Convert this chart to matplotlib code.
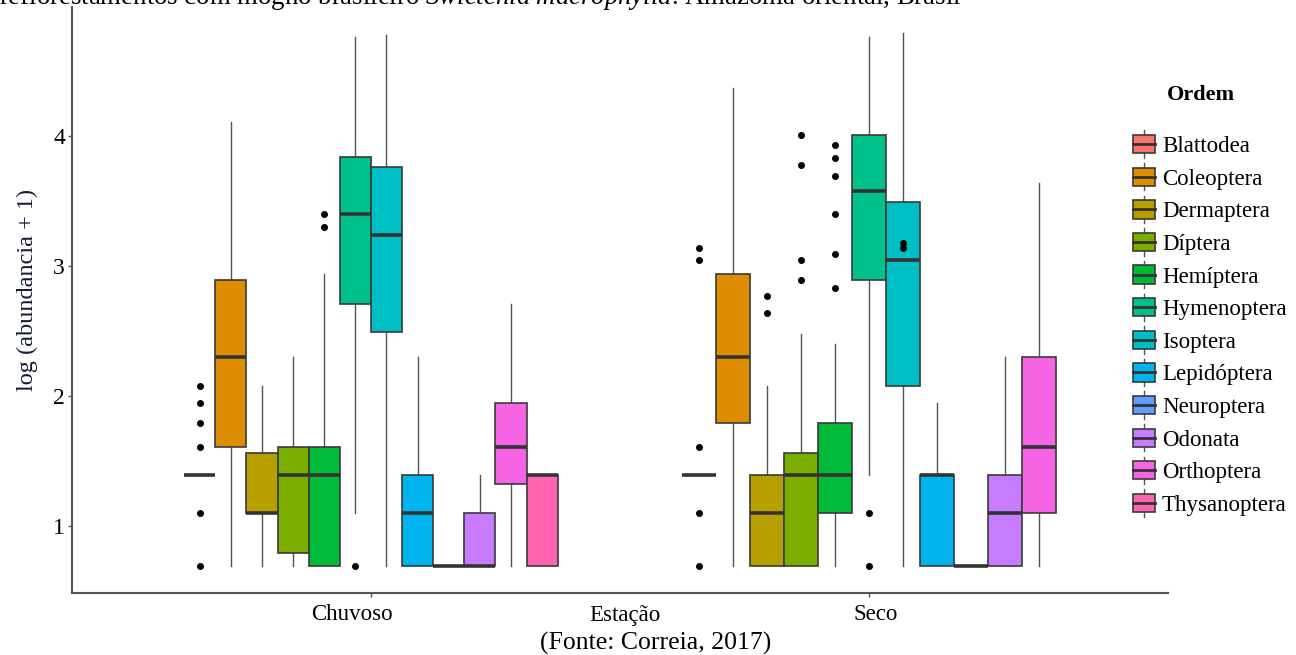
import numpy as np
import matplotlib
matplotlib.use("Agg")
import matplotlib.pyplot as plt
from matplotlib.patches import Rectangle, Patch
from matplotlib.lines import Line2D
from matplotlib.legend_handler import HandlerBase

plt.rcParams['font.family'] = ['Liberation Serif', 'DejaVu Serif']
plt.rcParams['mathtext.fontset'] = 'custom'
plt.rcParams['mathtext.rm'] = 'Liberation Serif'
plt.rcParams['mathtext.it'] = 'Liberation Serif:italic'

# %% Data (log(abundancia + 1))
ordens = ['Blattodea', 'Coleoptera', 'Dermaptera', 'Díptera', 'Hemíptera', 'Hymenoptera',
          'Isoptera', 'Lepidóptera', 'Neuroptera', 'Odonata', 'Orthoptera', 'Thysanoptera']
cores = ['#F8766D', '#DE8C00', '#B79F00', '#7CAE00', '#00BA38', '#00C08B',
         '#00BFC4', '#00B4F0', '#619CFF', '#C77CFF', '#F564E3', '#FF64B0']
estacoes = ['Chuvoso', 'Seco']

# Chuvoso: all 12 orders
chuv_whislo = [1.39, 0.69, 0.69, 0.69, 0.69, 1.10, 0.69, 0.69, 0.69, 0.69, 0.69, 0.69]
chuv_q1     = [1.39, 1.61, 1.10, 0.79, 0.69, 2.71, 2.49, 0.69, 0.69, 0.69, 1.32, 0.69]
chuv_med    = [1.39, 2.30, 1.10, 1.39, 1.39, 3.40, 3.24, 1.10, 0.69, 0.69, 1.61, 1.39]
chuv_q3     = [1.39, 2.89, 1.56, 1.61, 1.61, 3.84, 3.76, 1.39, 0.69, 1.10, 1.95, 1.39]
chuv_whishi = [1.39, 4.11, 2.08, 2.30, 2.94, 4.76, 4.78, 2.30, 0.69, 1.39, 2.71, 1.39]
chuv_fliers = [[2.08, 1.95, 1.79, 1.61, 1.10, 0.69], [], [], [], [3.40, 3.30], [0.69],
               [], [], [], [], [], []]

# Seco: no Thysanoptera
seco_whislo = [1.39, 0.69, 0.69, 0.69, 0.69, 1.39, 0.69, 0.69, 0.69, 0.69, 0.69]
seco_q1     = [1.39, 1.79, 0.69, 0.69, 1.10, 2.89, 2.08, 0.69, 0.69, 0.69, 1.10]
seco_med    = [1.39, 2.30, 1.10, 1.39, 1.39, 3.58, 3.05, 1.39, 0.69, 1.10, 1.61]
seco_q3     = [1.39, 2.94, 1.39, 1.56, 1.79, 4.01, 3.49, 1.39, 0.69, 1.39, 2.30]
seco_whishi = [1.39, 4.37, 2.08, 2.48, 2.40, 4.76, 4.79, 1.95, 0.69, 2.30, 3.64]
seco_fliers = [[3.14, 3.05, 1.61, 1.10, 0.69], [], [2.77, 2.64], [4.01, 3.78, 3.05, 2.89],
               [3.93, 3.83, 3.69, 3.40, 3.09, 2.83], [1.10, 0.69], [3.18, 3.14],
               [], [], [], []]

# %% Figure
fig = plt.figure(figsize=(12.96, 6.55), dpi=100)
ax = fig.add_axes([72/1296, 1-592.6/655, 1096/1296, 585.9/655])


def draw_season(xc, whislo, q1, med, q3, whishi, fliers):
    n = len(med)
    w = 0.75 / n
    pos = xc - 0.375 + w * (np.arange(n) + 0.5)
    stats = [dict(whislo=whislo[i], q1=q1[i], med=med[i], q3=q3[i],
                  whishi=whishi[i], fliers=fliers[i]) for i in range(n)]
    bp = ax.bxp(stats, positions=pos, widths=w, patch_artist=True, showcaps=False,
                manage_ticks=False,
                boxprops=dict(edgecolor='#3a3a3a', linewidth=1.2),
                whiskerprops=dict(color='#555555', linewidth=1.0),
                medianprops=dict(color='#333333', linewidth=2.6, solid_capstyle='butt'),
                flierprops=dict(marker='o', markerfacecolor='black', markeredgecolor='black',
                                markersize=4, linestyle='none'))
    for patch, c in zip(bp['boxes'], cores[:n]):
        patch.set_facecolor(c)
    for wl in bp['whiskers']:
        wl.set_zorder(1)


draw_season(1, chuv_whislo, chuv_q1, chuv_med, chuv_q3, chuv_whishi, chuv_fliers)
draw_season(2, seco_whislo, seco_q1, seco_med, seco_q3, seco_whishi, seco_fliers)

ax.set_xlim(0.4, 2.6)
ax.set_ylim(0.488, 4.995)
# major ticks mark the groups; labels sit on minor ticks (slightly off-centre as in the source)
ax.set_xticks([1, 2])
ax.set_xticklabels(['', ''])
ax.set_xticks([1 - 19/499, 2 + 7/499], minor=True)
ax.set_xticklabels(estacoes, minor=True, fontsize=16.5)
ax.tick_params(axis='x', which='minor', length=0, pad=8)
ax.set_yticks([1, 2, 3, 4])
ax.set_yticklabels(['1', '2', '3', '4'], fontsize=17)

for s in ['top', 'right']:
    ax.spines[s].set_visible(False)
for s in ['left', 'bottom']:
    ax.spines[s].set_color('#555555')
    ax.spines[s].set_linewidth(1.5)
ax.tick_params(axis='both', which='major', length=3, width=1, color='#555555', pad=2,
               labelcolor='black')

ax.set_xlabel('Estação', fontsize=16.5)
ax.xaxis.set_label_coords(0.5046, -0.022)
ax.set_ylabel('log (abundancia + 1)', fontsize=17.5, color='#141a33')
ax.yaxis.set_label_coords(-0.031, 0.516)


# %% Legend with boxplot keys
class BoxKey(HandlerBase):
    def create_artists(self, legend, orig_handle, xdescent, ydescent, width, height, fontsize, trans):
        x0, y0 = -xdescent, -ydescent
        cx = x0 + width / 2
        whisk = Line2D([cx, cx], [y0 - 0.25*height, y0 + 1.25*height], color='#555555', lw=1.0, transform=trans)
        box = Rectangle((x0, y0), width, height, facecolor=orig_handle.get_facecolor(),
                        edgecolor='#3a3a3a', lw=1.2, transform=trans)
        mid = Line2D([x0, x0 + width], [y0 + height/2]*2, color='#333333', lw=2.0, transform=trans)
        return [whisk, box, mid]


handles = [Patch(facecolor=c) for c in cores]
fig.legend(handles, ordens, handler_map={Patch: BoxKey()}, loc='upper left',
           bbox_to_anchor=(1133/1296, 1-135/655), frameon=False, fontsize=16.5,
           handlelength=0.97, handleheight=0.85, handletextpad=0.3, labelspacing=0.46,
           borderpad=0, borderaxespad=0)
fig.text(1201/1296, 1-95/655, 'Ordem', fontsize=16, fontweight='bold', ha='center', va='center')

# %% Surrounding document text
fig.text(-1/1296, 1-4/655,
         'reflorestamentos com mogno brasileiro $\\mathit{Swietenia\\ macrophylla}$. Amazônia oriental, Brasil',
         fontsize=19.3, va='baseline', ha='left')
fig.text(655.5/1296, 5/655, '(Fonte: Correia, 2017)', fontsize=18.5, ha='center', va='baseline')

fig.savefig('out.png', dpi=100)
